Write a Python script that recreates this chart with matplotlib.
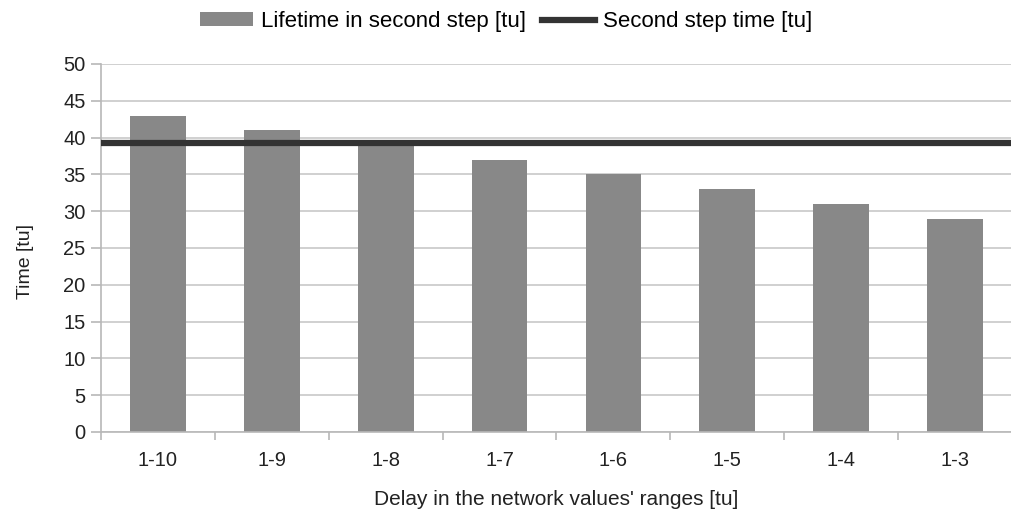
import matplotlib.pyplot as plt
import numpy as np
from matplotlib.patches import Patch
from matplotlib.lines import Line2D

plt.rcParams['font.family'] = ['Liberation Sans', 'DejaVu Sans']

# Data
categories = ['1-10', '1-9', '1-8', '1-7', '1-6', '1-5', '1-4', '1-3']
lifetime = [43, 41, 39, 37, 35, 33, 31, 29]
second_step_time = 39.2

bar_color = '#888888'
line_color = '#333333'
text_color = '#222222'
axis_grey = '#b8b8b8'

fig = plt.figure(figsize=(10.12, 5.11), dpi=100)
ax = fig.add_axes([0.0998, 0.1546, 0.9002, 0.7202])

x = np.arange(len(categories))
ax.bar(x, lifetime, width=0.49, color=bar_color, zorder=2)
ax.axhline(second_step_time, color=line_color, linewidth=4.5, zorder=3)

ax.set_xlim(-0.5, len(categories) - 0.5)
ax.set_ylim(0, 50)
ax.set_yticks(range(0, 51, 5))
ax.yaxis.grid(True, color='#c8c8c8', linewidth=1.2, zorder=0)

# category labels centred, tick marks at the boundaries
ax.set_xticks(x)
ax.set_xticklabels(categories, fontsize=14.5, color=text_color)
ax.tick_params(axis='x', which='major', length=0, pad=14)
ax.set_xticks(np.arange(-0.5, len(categories), 1.0), minor=True)
ax.tick_params(axis='x', which='minor', length=6, color=axis_grey, width=1.2)
ax.tick_params(axis='y', length=7, color=axis_grey, width=1.2, pad=4,
               labelsize=14.5, labelcolor=text_color)

for s in ['top', 'right']:
    ax.spines[s].set_visible(False)
for s in ['left', 'bottom']:
    ax.spines[s].set_color(axis_grey)
    ax.spines[s].set_linewidth(1.2)

ax.set_ylabel('Time [tu]', fontsize=14, color=text_color)
ax.yaxis.set_label_coords(-0.074, 0.462)
ax.set_xlabel("Delay in the network values' ranges [tu]", fontsize=15,
              color=text_color, labelpad=14)

handles = [Patch(facecolor=bar_color, edgecolor='none'),
           Line2D([0], [0], color=line_color, linewidth=4.5)]
labels = ['Lifetime in second step [tu]', 'Second step time [tu]']
fig.legend(handles, labels, loc='center', bbox_to_anchor=(0.5, 0.958), ncol=2,
           frameon=False, fontsize=16, handlelength=2.4, handleheight=0.6,
           columnspacing=0.7, handletextpad=0.35, borderpad=0)

plt.savefig('out.png', dpi=100)
plt.close()
